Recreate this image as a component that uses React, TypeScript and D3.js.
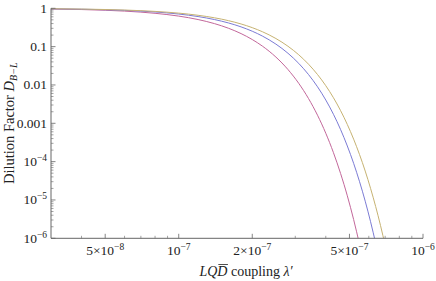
import React, { useLayoutEffect, useRef, useState } from 'react';
import * as d3 from 'd3';

// coupling lambda' (in units of 1e-7) and dilution factor per curve
const lambdaVals = [0.3, 0.4, 0.5, 0.6, 0.7, 0.8, 1.0, 1.2, 1.4, 1.6, 1.8, 2.0, 2.2, 2.5, 2.8, 3.1, 3.4, 3.7, 4.0, 4.3, 4.6, 4.9, 5.2, 5.5, 5.8, 6.1, 6.4, 6.7, 7.0];

const magentaD = [0.9587, 0.9277, 0.8893, 0.8446, 0.7946, 0.7407, 0.6256, 0.5089, 0.3987, 0.3009, 0.2187, 0.1531, 0.1033, 0.0533, 0.0253, 0.01102, 0.004413, 0.001625, 5.5e-4, 1.71e-4, 4.88e-5, 1.285e-5, 3.09e-6, 6.87e-7];
const blueD = [0.9695, 0.9464, 0.9175, 0.8834, 0.8447, 0.8022, 0.7086, 0.609, 0.5092, 0.4141, 0.3276, 0.2522, 0.1888, 0.1162, 0.0672, 0.03652, 0.01866, 0.008965, 0.004045, 0.001717, 6.84e-4, 2.56e-4, 9.03e-5, 2.99e-5, 9.3e-6, 2.72e-6, 7.47e-7];
const oliveD = [0.9742, 0.9546, 0.9299, 0.9007, 0.8673, 0.8303, 0.7478, 0.658, 0.5657, 0.4752, 0.39, 0.3127, 0.245, 0.1626, 0.1024, 0.06125, 0.03475, 0.01871, 0.009565, 0.004637, 0.002135, 9.32e-4, 3.86e-4, 1.52e-4, 5.68e-5, 2.01e-5, 6.77e-6, 2.16e-6, 6.5e-7];

const seriesColors = ['#c2679a', '#7b7bd4', '#c6b272'];

const xMajor = [5e-8, 1e-7, 2e-7, 5e-7, 1e-6];
const xMinor = [4e-8, 6e-8, 7e-8, 8e-8, 9e-8, 3e-7, 4e-7, 6e-7, 7e-7, 8e-7, 9e-7];
const yMajor = [1, 0.1, 0.01, 0.001, 1e-4, 1e-5, 1e-6];

const W = 436;
const H = 281;
const left = 51;
const right = 423;
const top = 8.3;
const bottom = 238.3;

const font = "'Liberation Serif', 'Times New Roman', 'DejaVu Serif', serif";

const splitLabel = (v: number) => {
  const exp = Math.floor(Math.log10(v) + 1e-9);
  const m = Math.round(v / Math.pow(10, exp));
  return { m, exp };
};

const App: React.FC = () => {
  const x = d3.scaleLog().domain([3e-8, 1e-6]).range([left, right]);
  const y = d3.scaleLog().domain([1e-6, 1]).range([bottom, top]);

  const titleRef = useRef<SVGTextElement>(null);
  const [bar, setBar] = useState<{ x1: number; x2: number } | null>(null);

  useLayoutEffect(() => {
    const t = titleRef.current;
    if (!t) return;
    try {
      const s = t.getStartPositionOfChar(2);
      const e = t.getEndPositionOfChar(2);
      setBar({ x1: s.x, x2: e.x });
    } catch (err) {
      setBar(null);
    }
  }, []);

  const series = [magentaD, blueD, oliveD];
  const line = d3
    .line<[number, number]>()
    .x((d) => x(d[0] * 1e-7))
    .y((d) => y(d[1]))
    .curve(d3.curveMonotoneX);

  const yMinor: number[] = [];
  for (let e = -6; e < 0; e++) {
    for (let k = 2; k <= 9; k++) yMinor.push(k * Math.pow(10, e));
  }

  const axisColor = '#666';
  const textColor = '#222';

  return (
    <svg width={W} height={H} style={{ position: 'absolute', left: 0, top: 0, background: '#fff', fontFamily: font }}>
      <defs>
        <clipPath id="plot">
          <rect x={left} y={top - 2} width={right - left} height={bottom - top + 2} />
        </clipPath>
      </defs>

      {/* curves */}
      <g clipPath="url(#plot)">
        {series.map((vals, i) => (
          <path
            key={i}
            d={line(vals.map((v, j) => [lambdaVals[j], v] as [number, number])) || ''}
            fill="none"
            stroke={seriesColors[i]}
            strokeWidth={1}
          />
        ))}
      </g>

      {/* y axis */}
      <line x1={left} x2={left} y1={top} y2={bottom} stroke={axisColor} strokeWidth={1} />
      {yMinor.map((v, i) => (
        <line key={'ym' + i} x1={left} x2={left + 2.5} y1={y(v)} y2={y(v)} stroke={axisColor} strokeWidth={0.6} />
      ))}
      {yMajor.map((v, i) => {
        const exp = Math.round(Math.log10(v));
        return (
          <g key={'yM' + i}>
            <line x1={left} x2={left + 4.5} y1={y(v)} y2={y(v)} stroke={axisColor} strokeWidth={0.8} />
            <text x={left - 4} y={y(v) + 4.5} textAnchor="end" fontSize={13.5} fill={textColor}>
              {exp >= -3 ? (
                String(v)
              ) : (
                <>
                  10
                  <tspan dy={-5} fontSize={9.5}>
                    {'\u2212' + Math.abs(exp)}
                  </tspan>
                </>
              )}
            </text>
          </g>
        );
      })}

      {/* x axis */}
      <line x1={left} x2={right} y1={bottom} y2={bottom} stroke={axisColor} strokeWidth={1} />
      {xMinor.map((v, i) => (
        <line key={'xm' + i} x1={x(v)} x2={x(v)} y1={bottom} y2={bottom - 2.5} stroke={axisColor} strokeWidth={0.6} />
      ))}
      {xMajor.map((v, i) => {
        const { m, exp } = splitLabel(v);
        return (
          <g key={'xM' + i}>
            <line x1={x(v)} x2={x(v)} y1={bottom} y2={bottom - 4.5} stroke={axisColor} strokeWidth={0.8} />
            <text x={x(v)} y={bottom + 17} textAnchor="middle" fontSize={13.5} fill={textColor}>
              {m !== 1 ? m + '\u00d7' : ''}10
              <tspan dy={-5} fontSize={9.5}>
                {'\u2212' + Math.abs(exp)}
              </tspan>
            </text>
          </g>
        );
      })}

      {/* axis titles */}
      <text ref={titleRef} x={246} y={276} textAnchor="middle" fontSize={14} fill={textColor}>
        <tspan fontStyle="italic">LQD</tspan>
        <tspan>{' coupling '}</tspan>
        <tspan fontStyle="italic">{'\u03bb\u2032'}</tspan>
      </text>
      {bar && <line x1={bar.x1 + 1} x2={bar.x2 + 0.5} y1={264.5} y2={264.5} stroke={textColor} strokeWidth={0.8} />}
      <text transform={`translate(14, ${(top + bottom) / 2}) rotate(-90)`} textAnchor="middle" fontSize={14.5} fill={textColor}>
        Dilution Factor <tspan fontStyle="italic">D</tspan>
        <tspan fontStyle="italic" fontSize={10} dy={3}>
          {'B\u2212L'}
        </tspan>
      </text>
    </svg>
  );
};

export default App;
